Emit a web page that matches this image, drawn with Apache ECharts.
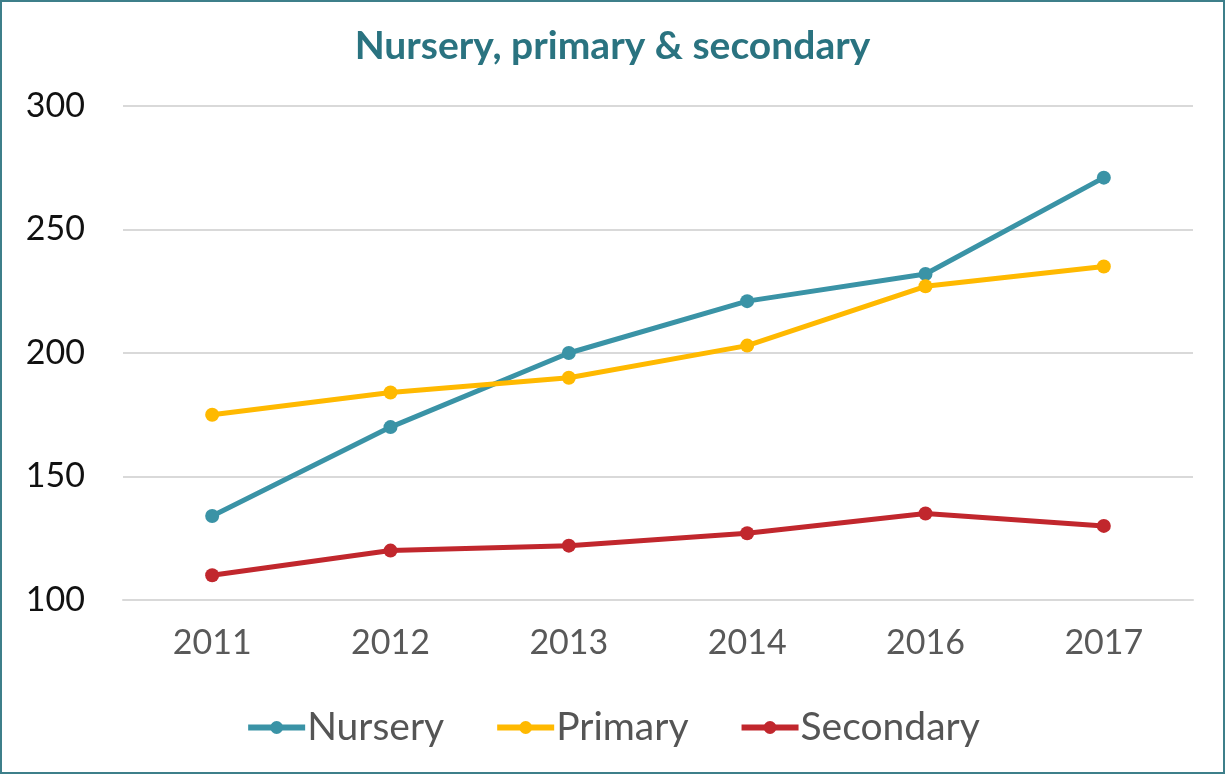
<!DOCTYPE html>
<html lang="en">
<head>
	<meta charset="UTF-8">
	<title>Nursery, primary & secondary</title>
	<style>
		html, body { margin: 0; padding: 0; background: #fff; }
		#main { width: 1221px; height: 770px; border: 2px solid #3d7f8a; }
	</style>
</head>
<body>
	<div id="main"></div>
</body>
<script src="https://cdn.jsdelivr.net/npm/echarts@6/dist/echarts.min.js"></script>
<script type="text/javascript">
var years = ['2011', '2012', '2013', '2014', '2016', '2017'];
var nursery = [134, 170, 200, 221, 232, 271];
var primary = [175, 184, 190, 203, 227, 235];
var secondary = [110, 120, 122, 127, 135, 130];
var yTicks = { min: 100, max: 300, interval: 50 };

var fontName = 'Lato, "Open Sans", sans-serif';

function lineSeries(name, data, color) {
    return {
        name: name,
        type: 'line',
        data: data,
        symbol: 'circle',
        symbolSize: 14,
        lineStyle: { width: 5, color: color },
        itemStyle: { color: color }
    };
}

var option = {
    animation: false,
    textStyle: { fontFamily: fontName },
    title: {
        text: 'Nursery, primary & secondary',
        left: 'center',
        top: 20,
        textStyle: { color: '#2a7380', fontSize: 39, fontWeight: 'bold', fontFamily: fontName }
    },
    legend: {
        bottom: 20,
        left: 'center',
        itemWidth: 57,
        itemHeight: 16,
        itemGap: 50,
        lineStyle: { width: 6 },
        textStyle: { color: '#555', fontSize: 39, fontFamily: fontName, padding: [0, 0, 0, -3] },
        data: ['Nursery', 'Primary', 'Secondary']
    },
    grid: { left: 121, right: 30, top: 104, bottom: 172 },
    xAxis: {
        type: 'category',
        data: years,
        boundaryGap: true,
        axisLine: { show: true, lineStyle: { color: '#d9d9d9', width: 2 } },
        axisTick: { show: false },
        axisLabel: { color: '#595959', fontSize: 34, margin: 26 }
    },
    yAxis: {
        type: 'value',
        min: yTicks.min,
        max: yTicks.max,
        interval: yTicks.interval,
        axisLine: { show: false },
        axisTick: { show: false },
        axisLabel: { color: '#111', fontSize: 34, margin: 38 },
        splitLine: { lineStyle: { color: '#d9d9d9', width: 2 } }
    },
    series: [
        lineSeries('Nursery', nursery, '#3a93a6'),
        lineSeries('Primary', primary, '#ffb900'),
        lineSeries('Secondary', secondary, '#c1272d')
    ]
};

var myChart = echarts.init(document.getElementById('main'));
myChart.setOption(option);
</script>
</html>
